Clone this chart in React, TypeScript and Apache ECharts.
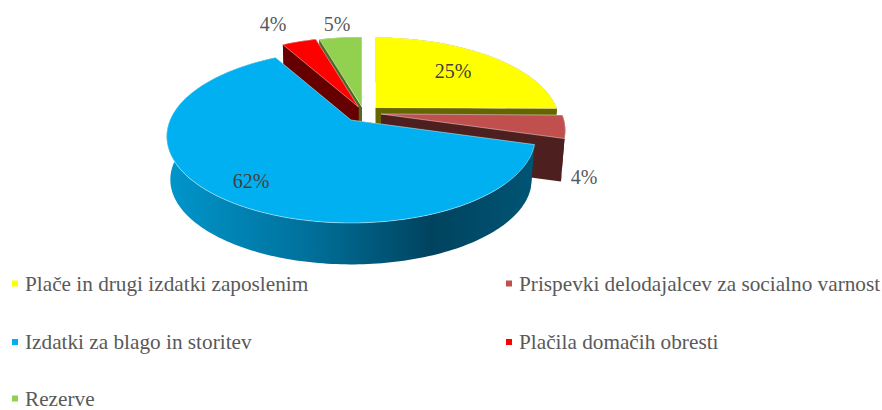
import React, { useEffect, useRef } from "react";
import * as echarts from "echarts";

const categories = [
  "Plače in drugi izdatki zaposlenim",
  "Prispevki delodajalcev za socialno varnost",
  "Izdatki za blago in storitev",
  "Plačila domačih obresti",
  "Rezerve",
];
const shares = [25.2, 4.3, 62.4, 3.6, 4.5];

const topColors = ["#FFFF00", "#C0504D", "#00B0F0", "#FF0000", "#92D050"];
const sideColors = ["#666600", "#4D1F1E", "#00435F", "#660000", "#4E6A20"];
const apexes = [[375.5, 107.5], [381, 114], [351, 120], [358.5, 107], [362, 107]];
const labelPos = [[453, 71], [584, 177], [251, 181], [273, 24], [337, 24]];
const labelColors = ["#404040", "#595959", "#404040", "#595959", "#595959"];
const legendPos = [[12, 273], [506, 273], [12, 331.5], [506, 331.5], [12, 388]];
const drawOrder = [0, 4, 3, 1, 2];

const R = 181, H = 83.4, K = 0.19, DEPTH = 43.5, SHRINK = 0.98;
const FONT = '"Liberation Serif", "Times New Roman", serif';

function point(apex: number[], pct: number, depth = 0, s = 1) {
  const a = (pct * Math.PI * 2) / 100;
  const u = Math.sin(a), v = Math.cos(a), w = 1 + K * v;
  return [apex[0] + (R * s * u) / w, apex[1] + depth - (H * s * v) / w];
}
function arc(apex: number[], from: number, to: number, depth = 0, s = 1) {
  const pts: number[][] = [];
  const n = Math.max(2, Math.ceil((to - from) * 3));
  for (let i = 0; i <= n; i++) pts.push(point(apex, from + ((to - from) * i) / n, depth, s));
  return pts;
}

function renderSlice(i: number) {
  const before = shares.slice(0, i).reduce((a, b) => a + b, 0);
  const after = before + shares[i];
  const apex = apexes[i];
  const low = [apex[0], apex[1] + DEPTH];
  const side: any = i === 2
    ? new echarts.graphic.LinearGradient(0, 0, 1, 0, [
        { offset: 0, color: "#0096CC" },
        { offset: 0.4, color: "#006F99" },
        { offset: 0.72, color: "#00435F" },
        { offset: 1, color: "#005574" },
      ])
    : sideColors[i];
  const cut = (pct: number) => ({
    type: "polygon",
    shape: { points: [apex, point(apex, pct), point(apex, pct, DEPTH, SHRINK), low] },
    style: { fill: sideColors[i] },
  });
  const wall = {
    type: "polygon",
    shape: {
      points: [...arc(apex, before, after), ...arc(apex, before, after, DEPTH, SHRINK).reverse()],
    },
    style: { fill: side },
  };
  const top = {
    type: "polygon",
    shape: { points: [apex, ...arc(apex, before, after)] },
    style: { fill: topColors[i], stroke: "rgba(255,255,255,0.55)", lineWidth: 0.8 },
  };
  const label = {
    type: "text",
    x: labelPos[i][0],
    y: labelPos[i][1],
    style: {
      text: Math.round(shares[i]) + "%",
      fill: labelColors[i],
      font: `20px ${FONT}`,
      align: "center",
      verticalAlign: "middle",
    },
  };
  return { type: "group", children: [cut(before), cut(after), wall, top, label] };
}

export default function App() {
  const ref = useRef<HTMLDivElement>(null);
  useEffect(() => {
    const chart = echarts.init(ref.current!, null, { renderer: "svg" });
    chart.setOption({
      animation: false,
      backgroundColor: "#FFFFFF",
      legend: categories.map((name, i) => ({
        orient: "vertical",
        icon: "rect",
        itemWidth: 6,
        itemHeight: 6,
        selectedMode: false,
        padding: 0,
        left: legendPos[i][0],
        top: legendPos[i][1],
        data: [name],
        textStyle: {
          fontFamily: FONT,
          fontSize: 21.25,
          color: "#595959",
          padding: [0, 0, 0, 2],
        },
      })),
      series: drawOrder.map((i) => ({
        type: "custom",
        name: categories[i],
        coordinateSystem: "none",
        silent: true,
        itemStyle: { color: topColors[i] },
        data: [shares[i]],
        renderItem: () => renderSlice(i),
      })),
    });
    return () => chart.dispose();
  }, []);
  return <div ref={ref} style={{ position: "absolute", left: 0, top: 0, width: 882, height: 410 }} />;
}
